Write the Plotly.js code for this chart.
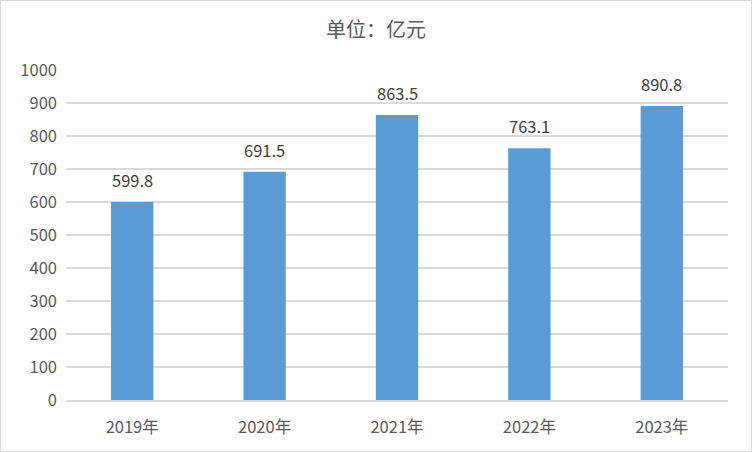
<!DOCTYPE html>
<html><head><meta charset="utf-8">
<script src="https://cdn.plot.ly/plotly-3.0.1.min.js"></script>
<style>html,body{margin:0;padding:0;background:#fff;}#c{width:752px;height:452px;box-sizing:border-box;border:1px solid #d9d9d9;}</style>
</head><body><div id="c"></div>
<script>
const categories = ["2019年","2020年","2021年","2022年","2023年"];
const values = [599.8, 691.5, 863.5, 763.1, 890.8];
const labels = ["599.8","691.5","863.5","763.1","890.8"];
const F = '"Noto Sans CJK SC", "Microsoft YaHei", sans-serif';
const annotations = categories.map((c,i)=>({
  x:c, y:values[i], text:labels[i], showarrow:false, yanchor:'bottom', yshift:8,
  font:{family:F, size:16.5, color:'#404040'}
}));
Plotly.newPlot('c', [{
  type:'bar', x:categories, y:values,
  cliponaxis:false, marker:{color:'#5B9BD5'}, width:0.32, hoverinfo:'none'
}], {
  width:750, height:450,
  margin:{l:65, r:23, t:69, b:51},
  paper_bgcolor:'#fff', plot_bgcolor:'#fff',
  title:{text:'单位：亿元', x:0.5, xanchor:'center', y:0.935, yanchor:'middle', font:{family:F, size:20, color:'#595959'}},
  xaxis:{tickfont:{family:F, size:16.5, color:'#595959'}, showgrid:false, showline:true, linecolor:'#d9d9d9', linewidth:1.5, ticks:'', ticklabelstandoff:12, fixedrange:true},
  yaxis:{range:[0,1000], dtick:100, tickfont:{family:F, size:16.5, color:'#595959'}, gridcolor:'#d9d9d9', gridwidth:1.5, zeroline:false, ticks:'', ticklabelstandoff:8, fixedrange:true},
  annotations:annotations,
  showlegend:false
}, {displayModeBar:false, staticPlot:true});
</script></body></html>
